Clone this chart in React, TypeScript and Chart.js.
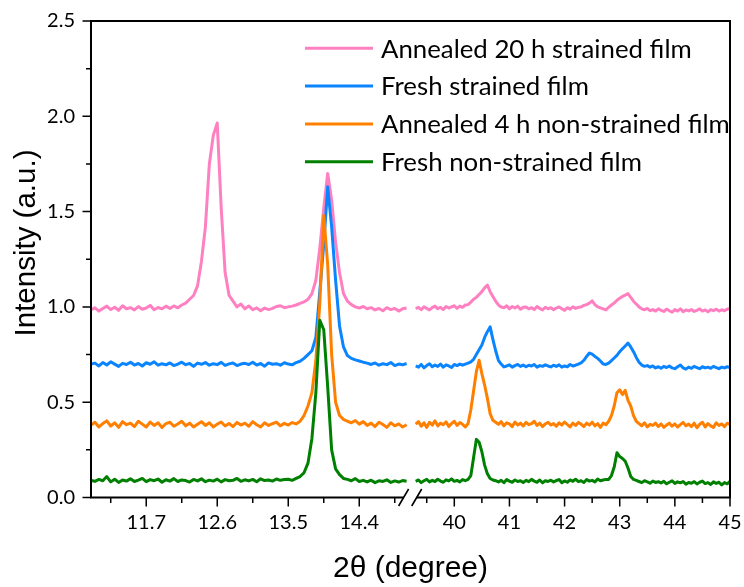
import { useEffect, useRef } from "react";
import { Chart, registerables } from "chart.js";

Chart.register(...registerables);

// 2θ scan windows on either side of the axis break
const LEFT_START = 11.0;
const LEFT_END = 15.0;
const RIGHT_START = 39.3;
const RIGHT_END = 45.0;
const SCAN_STEP = 0.05;

// measurement grid of the diffractometer scan
const scanGrid = (start: number, count: number) =>
  Array.from({ length: count }, (_, i) => +(start + i * SCAN_STEP).toFixed(2));

const leftTwoTheta = scanGrid(LEFT_START, 81); // 11.00 … 15.00
const rightTwoTheta = scanGrid(RIGHT_START, 115); // 39.30 … 45.00

const seriesLabels = [
  "Annealed 20 h strained film",
  "Fresh strained film",
  "Annealed 4 h non-strained film",
  "Fresh non-strained film",
];
const seriesColors = ["#FF80C0", "#0A84FF", "#FF8000", "#008000"];

// Annealed 20 h strained film
const annealed20Left = [
  0.985, 0.995, 0.978, 0.992, 1.004, 0.986, 0.998, 0.982, 1.006, 0.99,
  0.996, 0.984, 1.002, 0.988, 0.994, 1.008, 0.985, 0.997, 0.99, 1.004,
  0.992, 1.005, 0.995, 1.01, 1.02, 1.04, 1.06, 1.11, 1.24, 1.42,
  1.75, 1.9, 1.965, 1.52, 1.18, 1.06, 1.03, 1.0, 1.015, 0.99,
  1.005, 0.985, 0.995, 0.98, 0.994, 0.986, 0.992, 1.002, 1.006, 0.996,
  1.0, 1.004, 1.01, 1.018, 1.026, 1.04, 1.07, 1.14, 1.31, 1.52,
  1.7, 1.56, 1.34, 1.18, 1.07, 1.03, 1.012, 1.0, 0.994, 1.002,
  0.99, 0.996, 0.984, 0.992, 0.98, 0.996, 0.986, 0.992, 0.978, 0.99,
  0.994,
];
const annealed20Right = [
  0.99, 0.998, 0.985, 1.0, 0.992, 0.984, 0.996, 1.004, 0.99, 0.998,
  0.986, 1.002, 0.994, 1.0, 1.006, 0.992, 1.004, 0.998, 1.01, 1.012,
  1.025, 1.04, 1.05, 1.065, 1.08, 1.1, 1.115, 1.08, 1.055, 1.03,
  1.01, 1.0, 0.995, 1.006, 0.99, 1.002, 0.994, 1.004, 0.988, 0.998,
  1.0, 0.99, 0.996, 0.986, 1.002, 0.992, 0.984, 0.998, 0.99, 0.996,
  0.985, 0.994, 1.0, 0.99, 0.982, 0.996, 0.988, 1.0, 0.992, 0.998,
  1.0, 1.008, 1.012, 1.02, 1.032, 1.012, 1.0, 0.995, 0.99, 0.984,
  0.998, 1.01, 1.02, 1.035, 1.045, 1.055, 1.062, 1.07, 1.05, 1.03,
  1.015, 1.0, 0.99, 0.985, 0.992, 0.98, 0.986, 0.978, 0.99, 0.982,
  0.976, 0.988, 0.98, 0.972, 0.986, 0.978, 0.99, 0.975, 0.984, 0.979,
  0.986, 0.976, 0.982, 0.99, 0.978, 0.984, 0.974, 0.986, 0.98, 0.988,
  0.978, 0.985, 0.98, 0.988, 0.992,
];

// Fresh strained film
const freshStrainedLeft = [
  0.7, 0.705, 0.69, 0.708, 0.695, 0.712, 0.7, 0.688, 0.704, 0.698,
  0.71, 0.695, 0.703, 0.69, 0.707, 0.699, 0.712, 0.694, 0.702, 0.696,
  0.706, 0.692, 0.7, 0.71, 0.697, 0.703, 0.688, 0.705, 0.699, 0.708,
  0.694, 0.702, 0.697, 0.709, 0.693, 0.701, 0.706, 0.692, 0.7, 0.704,
  0.698, 0.71, 0.695, 0.703, 0.689, 0.706, 0.699, 0.702, 0.694, 0.707,
  0.7, 0.696, 0.708, 0.715, 0.73, 0.75, 0.77, 0.84, 1.08, 1.33,
  1.63, 1.42, 1.14, 0.9, 0.79, 0.745, 0.73, 0.722, 0.716, 0.71,
  0.705, 0.698, 0.706, 0.694, 0.702, 0.697, 0.708, 0.692, 0.7, 0.696,
  0.703,
];
const freshStrainedRight = [
  0.69, 0.684, 0.698, 0.68, 0.692, 0.702, 0.686, 0.695, 0.688, 0.7,
  0.684, 0.696, 0.69, 0.682, 0.698, 0.692, 0.7, 0.694, 0.7, 0.705,
  0.712, 0.725, 0.75, 0.775, 0.8, 0.84, 0.87, 0.895, 0.83, 0.77,
  0.72, 0.7, 0.685, 0.69, 0.696, 0.684, 0.692, 0.698, 0.688, 0.695,
  0.686, 0.694, 0.69, 0.698, 0.684, 0.692, 0.688, 0.696, 0.69, 0.685,
  0.694, 0.688, 0.696, 0.684, 0.69, 0.686, 0.698, 0.69, 0.694, 0.7,
  0.706, 0.72, 0.74, 0.758, 0.752, 0.74, 0.73, 0.716, 0.7, 0.698,
  0.705, 0.718, 0.732, 0.746, 0.765, 0.78, 0.795, 0.81, 0.79, 0.765,
  0.735, 0.71, 0.695, 0.688, 0.692, 0.684, 0.69, 0.68, 0.686, 0.678,
  0.688, 0.682, 0.69, 0.68, 0.676, 0.686, 0.695, 0.68, 0.674, 0.684,
  0.678, 0.688, 0.682, 0.676, 0.686, 0.68, 0.684, 0.678, 0.688, 0.682,
  0.676, 0.684, 0.68, 0.686, 0.682,
];

// Annealed 4 h non-strained film
const annealed4Left = [
  0.38, 0.395, 0.37, 0.388, 0.402, 0.375, 0.392, 0.368, 0.398, 0.382,
  0.39, 0.372, 0.4, 0.385, 0.37, 0.396, 0.378, 0.392, 0.367, 0.388,
  0.395, 0.374, 0.386, 0.4, 0.376, 0.39, 0.37, 0.384, 0.398, 0.378,
  0.392, 0.37, 0.385, 0.396, 0.375, 0.388, 0.372, 0.394, 0.38, 0.39,
  0.374, 0.398, 0.382, 0.37, 0.392, 0.378, 0.387, 0.395, 0.376, 0.389,
  0.38, 0.393, 0.386, 0.4, 0.43, 0.48, 0.55, 0.72, 1.02, 1.48,
  1.22, 0.75, 0.5, 0.43, 0.41, 0.4, 0.392, 0.404, 0.385, 0.398,
  0.378, 0.39, 0.372, 0.395, 0.383, 0.368, 0.392, 0.376, 0.386, 0.37,
  0.382,
];
const annealed4Right = [
  0.385, 0.398, 0.374, 0.392, 0.368, 0.395, 0.38, 0.402, 0.376, 0.39,
  0.382, 0.397, 0.372, 0.388, 0.4, 0.378, 0.393, 0.384, 0.37, 0.388,
  0.46, 0.56, 0.66, 0.72, 0.65, 0.59, 0.52, 0.44, 0.405, 0.395,
  0.384, 0.398, 0.376, 0.392, 0.386, 0.372, 0.396, 0.38, 0.39, 0.375,
  0.394, 0.382, 0.388, 0.4, 0.378, 0.39, 0.372, 0.386, 0.395, 0.38,
  0.388, 0.374, 0.392, 0.38, 0.396, 0.383, 0.37, 0.39, 0.378, 0.394,
  0.385, 0.372, 0.39, 0.38, 0.395, 0.376, 0.388, 0.368, 0.39, 0.382,
  0.4, 0.43, 0.48, 0.55, 0.565, 0.54, 0.562, 0.51, 0.48, 0.43,
  0.4, 0.388, 0.376, 0.392, 0.37, 0.384, 0.378, 0.39, 0.372, 0.386,
  0.368, 0.38, 0.39, 0.374, 0.386, 0.37, 0.382, 0.394, 0.376, 0.385,
  0.372, 0.39, 0.366, 0.384, 0.395, 0.37, 0.388, 0.376, 0.368, 0.392,
  0.378, 0.386, 0.372, 0.39, 0.384,
];

// Fresh non-strained film
const freshNonStrainedLeft = [
  0.09, 0.085, 0.095, 0.088, 0.11, 0.082, 0.096, 0.079, 0.092, 0.086,
  0.098, 0.084, 0.091, 0.1, 0.083, 0.094, 0.088, 0.097, 0.08, 0.093,
  0.086, 0.099, 0.084, 0.092, 0.089, 0.081, 0.095, 0.087, 0.098, 0.083,
  0.091, 0.086, 0.096, 0.082, 0.094, 0.088, 0.09, 0.1, 0.085, 0.093,
  0.087, 0.095, 0.083, 0.098, 0.089, 0.092, 0.086, 0.097, 0.09, 0.094,
  0.096, 0.09, 0.1, 0.11, 0.13, 0.18, 0.31, 0.55, 0.93, 0.88,
  0.58, 0.25, 0.15, 0.12, 0.1, 0.095, 0.088, 0.099, 0.084, 0.09,
  0.082, 0.091, 0.078, 0.088, 0.084, 0.093, 0.079, 0.087, 0.081, 0.089,
  0.085,
];
const freshNonStrainedRight = [
  0.085, 0.092, 0.078, 0.088, 0.095, 0.082, 0.09, 0.084, 0.096, 0.086,
  0.08, 0.093, 0.087, 0.098, 0.085, 0.09, 0.082, 0.094, 0.088, 0.095,
  0.115, 0.21, 0.305, 0.29, 0.24, 0.17, 0.125, 0.1, 0.092, 0.088,
  0.082, 0.09, 0.078, 0.094, 0.086, 0.08, 0.092, 0.084, 0.088, 0.079,
  0.09, 0.083, 0.095, 0.086, 0.08, 0.092, 0.077, 0.088, 0.084, 0.091,
  0.082, 0.089, 0.094, 0.078, 0.087, 0.08, 0.092, 0.085, 0.096, 0.083,
  0.088, 0.079, 0.094, 0.086, 0.09, 0.082, 0.097, 0.088, 0.092, 0.095,
  0.095, 0.115, 0.16, 0.235, 0.215, 0.205, 0.19, 0.155, 0.11, 0.095,
  0.09, 0.084, 0.078, 0.088, 0.082, 0.075, 0.086, 0.079, 0.083, 0.076,
  0.085, 0.072, 0.08, 0.088, 0.074, 0.082, 0.077, 0.084, 0.07, 0.079,
  0.075, 0.083, 0.071, 0.08, 0.086, 0.073, 0.078, 0.068, 0.082, 0.074,
  0.08, 0.066, 0.078, 0.072, 0.085,
];

const seriesLeft = [annealed20Left, freshStrainedLeft, annealed4Left, freshNonStrainedLeft];
const seriesRight = [annealed20Right, freshStrainedRight, annealed4Right, freshNonStrainedRight];

// axis ticks
const xMajorTicks = [11.7, 12.6, 13.5, 14.4, 40, 41, 42, 43, 44, 45];
const xTickLabels = ["11.7", "12.6", "13.5", "14.4", "40", "41", "42", "43", "44", "45"];
const xMinorTicks = [11.25, 12.15, 13.05, 13.95, 14.85, 39.5, 40.5, 41.5, 42.5, 43.5, 44.5];
const yMajorTicks = [0, 0.5, 1, 1.5, 2, 2.5];
const yMinorTicks = [0.25, 0.75, 1.25, 1.75, 2.25];

const yTitle = "Intensity (a.u.)";
const xTitle = "2θ (degree)";

// broken axis: the two 2θ windows share one linear scale
const LEFT_WEIGHT = 315.6;
const GAP_WEIGHT = 9.1;
const RIGHT_WEIGHT = 314.3;
const AXIS_MAX = LEFT_WEIGHT + GAP_WEIGHT + RIGHT_WEIGHT;

const toAxis = (t: number) =>
  t <= LEFT_END
    ? ((t - LEFT_START) / (LEFT_END - LEFT_START)) * LEFT_WEIGHT
    : LEFT_WEIGHT + GAP_WEIGHT + ((t - RIGHT_START) / (RIGHT_END - RIGHT_START)) * RIGHT_WEIGHT;

const buildSeries = (left: number[], right: number[]) => [
  ...left.map((y, i) => ({ x: toAxis(leftTwoTheta[i]), y })),
  { x: LEFT_WEIGHT + GAP_WEIGHT / 2, y: null },
  ...right.map((y, i) => ({ x: toAxis(rightTwoTheta[i]), y })),
];

const TICK_FONT = "Lato, 'Open Sans', sans-serif";
const TITLE_FONT = "'Liberation Sans', Arial, sans-serif";

// frame, broken bottom axis, tick marks, vertical title
const framePlugin = {
  id: "brokenFrame",
  afterDraw(chart: any) {
    const { ctx, chartArea } = chart;
    const { left, right, top, bottom } = chartArea;
    const xs = chart.scales.x;
    const ys = chart.scales.y;
    const gapStart = xs.getPixelForValue(LEFT_WEIGHT);
    const gapEnd = xs.getPixelForValue(LEFT_WEIGHT + GAP_WEIGHT);
    ctx.save();
    ctx.strokeStyle = "#000";
    ctx.lineWidth = 2;
    ctx.lineCap = "butt";
    ctx.beginPath();
    ctx.moveTo(left, bottom + 1);
    ctx.lineTo(left, top);
    ctx.lineTo(right, top);
    ctx.lineTo(right, bottom + 1);
    ctx.moveTo(left, bottom);
    ctx.lineTo(gapStart - 3, bottom);
    ctx.moveTo(gapEnd + 1, bottom);
    ctx.lineTo(right, bottom);
    ctx.stroke();

    // break marks
    ctx.lineWidth = 1.6;
    ctx.beginPath();
    [gapStart - 3, gapEnd + 1].forEach((cx) => {
      ctx.moveTo(cx - 5, bottom + 8.5);
      ctx.lineTo(cx + 5, bottom - 8.5);
    });
    ctx.stroke();

    // tick marks
    ctx.lineWidth = 1.5;
    ctx.beginPath();
    xMajorTicks.forEach((t) => {
      const px = xs.getPixelForValue(toAxis(t));
      ctx.moveTo(px, bottom);
      ctx.lineTo(px, bottom + 9);
    });
    xMinorTicks.forEach((t) => {
      const px = xs.getPixelForValue(toAxis(t));
      ctx.moveTo(px, bottom);
      ctx.lineTo(px, bottom + 5.5);
    });
    yMajorTicks.forEach((v) => {
      const py = ys.getPixelForValue(v);
      ctx.moveTo(left, py);
      ctx.lineTo(left - 8.5, py);
    });
    yMinorTicks.forEach((v) => {
      const py = ys.getPixelForValue(v);
      ctx.moveTo(left, py);
      ctx.lineTo(left - 5, py);
    });
    ctx.stroke();

    // vertical axis title
    ctx.translate(27, 243);
    ctx.rotate(-Math.PI / 2);
    ctx.fillStyle = "#000";
    ctx.font = `29.5px ${TITLE_FONT}`;
    ctx.textAlign = "center";
    ctx.textBaseline = "middle";
    ctx.fillText(yTitle, 0, 0);
    ctx.restore();
  },
};

// series key inside the plot frame
const keyPlugin = {
  id: "seriesKey",
  afterDraw(chart: any) {
    const { ctx, chartArea } = chart;
    const size = 25.8;
    const x0 = chartArea.left + 214;
    const x1 = chartArea.left + 282;
    const tx = chartArea.left + 290;
    ctx.save();
    ctx.font = `${size}px ${TICK_FONT}`;
    ctx.textAlign = "left";
    ctx.textBaseline = "alphabetic";
    chart.data.datasets.forEach((ds: any, i: number) => {
      const y = chartArea.top + 27.3 + i * 37.8;
      ctx.strokeStyle = ds.borderColor;
      ctx.lineWidth = 3;
      ctx.beginPath();
      ctx.moveTo(x0, y);
      ctx.lineTo(x1, y);
      ctx.stroke();
      ctx.fillStyle = "#000";
      ctx.fillText(ds.label, tx, y + size * 0.36);
    });
    ctx.restore();
  },
};

export default function App() {
  const canvasRef = useRef<HTMLCanvasElement | null>(null);

  useEffect(() => {
    const canvas = canvasRef.current;
    if (!canvas) return;
    const chart = new Chart(canvas, {
      type: "line",
      data: {
        datasets: seriesLabels.map((label, i) => ({
          label,
          data: buildSeries(seriesLeft[i], seriesRight[i]) as any,
          borderColor: seriesColors[i],
          backgroundColor: seriesColors[i],
          borderWidth: 3,
          pointRadius: 0,
          tension: 0,
          fill: false,
          spanGaps: false,
          borderJoinStyle: "round" as const,
          order: seriesLabels.length - i,
        })),
      },
      options: {
        animation: false,
        responsive: false,
        events: [],
        layout: { padding: { top: 21, right: 14, left: 0, bottom: 0 } },
        plugins: {
          legend: { display: false },
          tooltip: { enabled: false },
        },
        scales: {
          x: {
            type: "linear",
            min: 0,
            max: AXIS_MAX,
            grid: { display: false, drawTicks: false },
            border: { display: false },
            afterBuildTicks: (scale: any) => {
              scale.ticks = xMajorTicks.map((t) => ({ value: toAxis(t) }));
            },
            afterFit: (scale: any) => {
              scale.height = 89.5;
              scale.paddingLeft = 0;
              scale.paddingRight = 0;
            },
            ticks: {
              autoSkip: false,
              maxRotation: 0,
              minRotation: 0,
              padding: 13.5,
              color: "#000",
              font: { family: TICK_FONT, size: 20 },
              callback: (_v: any, i: number) => xTickLabels[i],
            },
            title: {
              display: true,
              text: xTitle,
              color: "#000",
              font: { family: TITLE_FONT, size: 30 },
              padding: { top: 0, bottom: 0 },
            },
          },
          y: {
            type: "linear",
            min: 0,
            max: 2.5,
            grid: { display: false, drawTicks: false },
            border: { display: false },
            afterFit: (scale: any) => {
              scale.width = 91;
              scale.paddingTop = 0;
              scale.paddingBottom = 0;
            },
            ticks: {
              stepSize: 0.5,
              padding: 16,
              color: "#000",
              font: { family: TICK_FONT, size: 20 },
              callback: (v: any) => Number(v).toFixed(1),
            },
            title: { display: false },
          },
        },
      },
      plugins: [framePlugin, keyPlugin],
    });
    return () => chart.destroy();
  }, []);

  return (
    <div style={{ position: "absolute", left: 0, top: 0, width: 744, height: 587, background: "#fff" }}>
      <canvas ref={canvasRef} width={744} height={587} style={{ display: "block" }} />
    </div>
  );
}
